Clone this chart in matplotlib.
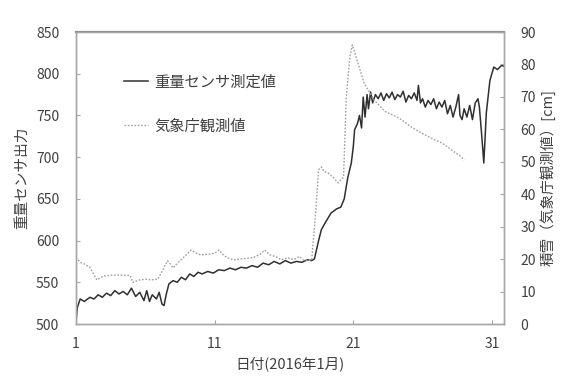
import numpy as np
import matplotlib
matplotlib.use("Agg")
import matplotlib.pyplot as plt

plt.rcParams['font.family'] = ['Noto Sans CJK JP', 'DejaVu Sans']

# weight sensor output (left axis), day of January 2016
sensor_day = [1.0, 1.1, 1.3, 1.6, 2.0, 2.3, 2.6, 2.9, 3.2, 3.5, 3.8, 4.1, 4.4, 4.7,
              5.0, 5.3, 5.6, 5.9, 6.1, 6.3, 6.5, 6.8, 7.0, 7.2, 7.35, 7.5, 7.7, 8.0,
              8.3, 8.6, 8.9, 9.2, 9.5, 9.8, 10.1, 10.5, 10.9, 11.3, 11.7, 12.1, 12.5,
              12.9, 13.3, 13.7, 14.1, 14.5, 14.9, 15.3, 15.7, 16.1, 16.5, 16.9, 17.3,
              17.7, 18.0, 18.2, 18.5, 18.7, 19.0, 19.4, 19.8, 20.1, 20.35, 20.6, 20.86,
              21.0, 21.1, 21.3, 21.45, 21.6, 21.72, 21.85, 22.0, 22.1, 22.25, 22.4,
              22.6, 22.8, 23.0, 23.2, 23.4, 23.6, 23.8, 24.0, 24.2, 24.4, 24.6, 24.8,
              25.0, 25.2, 25.4, 25.6, 25.7, 25.85, 26.0, 26.2, 26.4, 26.6, 26.8, 27.0,
              27.2, 27.4, 27.6, 27.8, 28.0, 28.2, 28.4, 28.6, 28.7, 28.85, 29.0, 29.2,
              29.4, 29.6, 29.8, 30.0, 30.1, 30.25, 30.42, 30.6, 30.86, 31.14, 31.4,
              31.7, 31.86]
sensor_val = [503, 520, 530, 527, 532, 530, 535, 532, 537, 534, 540, 536, 539, 535,
              543, 533, 538, 528, 540, 527, 535, 530, 538, 524, 522, 535, 548, 552,
              550, 556, 553, 560, 557, 562, 560, 563, 561, 565, 564, 567, 565,
              568, 567, 570, 568, 573, 571, 575, 572, 576, 573, 575, 574,
              577, 576, 578, 600, 613, 622, 633, 638, 640, 650, 675, 693,
              712, 733, 740, 750, 735, 772, 748, 775, 758, 778, 765,
              775, 770, 777, 768, 776, 771, 778, 769, 775, 772, 779, 766,
              774, 770, 777, 768, 786, 765, 770, 760, 768, 763, 770, 758,
              766, 760, 768, 752, 762, 748, 760, 775, 750, 745, 758, 748,
              762, 745, 765, 770, 760, 730, 693, 753, 792, 808, 805,
              810, 809]

# snow depth from JMA observation (right axis, cm)
jma_day = [1.0, 1.3, 1.6, 2.0, 2.5, 3.0, 3.5, 4.0, 4.5, 4.9, 5.1, 5.5, 6.0, 6.4,
           6.9, 7.3, 7.6, 7.8, 8.0, 8.5, 9.0, 9.3, 9.7, 10.0, 10.5, 11.0, 11.3,
           11.7, 12.0, 12.4, 12.8, 13.3, 13.8, 14.3, 14.6, 15.0, 15.5, 15.8, 16.3,
           16.7, 17.1, 17.5, 18.0, 18.3, 18.5, 18.7, 18.9, 19.2, 19.6, 19.9, 20.3,
           20.5, 20.75, 20.93, 21.3, 21.8, 22.1, 22.5, 23.3, 24.3, 25.2, 25.9,
           26.9, 27.4, 28.3, 28.8, 29.0]
jma_val = [20.5, 19.0, 18.5, 17.5, 13.6, 14.8, 15.0, 15.1, 15.0, 15.0, 12.8, 13.5,
           13.8, 13.6, 13.8, 17.0, 19.5, 18.5, 17.3, 19.5, 21.5, 22.8, 21.8, 21.3,
           21.5, 21.8, 22.8, 21.0, 20.3, 19.7, 20.0, 20.2, 20.5, 21.5, 22.8, 21.3,
           20.6, 19.8, 20.4, 19.8, 20.8, 19.5, 19.7, 35.0, 47.5, 48.4, 47.0, 46.5,
           45.0, 43.5, 45.3, 70.0, 82.0, 86.0, 81.0, 74.0, 72.0, 69.0, 65.5, 63.5,
           60.7, 58.9, 56.7, 55.8, 53.0, 51.5, 50.5]

x_ticks = [1, 11, 21, 31]
grey = '#a6a6a6'
txt = '#404040'

fig = plt.figure(figsize=(5.61, 3.81), dpi=100)
ax = fig.add_axes([0.1355, 0.1496, 0.898 - 0.1355, 0.916 - 0.1496])
ax2 = ax.twinx()

l1, = ax.plot(sensor_day, sensor_val, color='#303030', lw=1.1)
l2, = ax2.plot(jma_day, jma_val, color='#a0a0a0', lw=1.0, linestyle=(0, (1.2, 1.2)))

ax.set_xlim(1, 31.86)
ax.set_ylim(500, 850)
ax2.set_ylim(0, 90)
ax.set_xticks(x_ticks)
ax.set_yticks(np.arange(500, 851, 50))
ax2.set_yticks(np.arange(0, 91, 10))

for a in (ax, ax2):
    for s in a.spines.values():
        s.set_color(grey)
        s.set_linewidth(1.0)
    a.tick_params(colors=grey, labelcolor=txt, labelsize=10, length=3, direction='in')
ax.spines['top'].set_color('#8c8c8c')
ax.spines['top'].set_linewidth(1.6)
ax.tick_params(axis='y', pad=12)
ax.tick_params(axis='x', pad=9)
ax2.tick_params(axis='y', pad=12)

ax.set_xlabel('日付(2016年1月)', fontsize=10.5, color=txt, labelpad=4)
ax.set_ylabel('重量センサ出力', fontsize=10.5, color=txt, labelpad=5)
ax2.set_ylabel('積雪（気象庁観測値）[cm]', fontsize=10.5, color=txt, labelpad=3)

ax.legend([l1, l2], ['重量センサ測定値', '気象庁観測値'], loc='upper left',
          bbox_to_anchor=(0.08, 0.905), frameon=False, fontsize=11,
          handlelength=1.6, handletextpad=0.4, labelspacing=1.75, labelcolor=txt)

fig.savefig('out.png', dpi=100)
